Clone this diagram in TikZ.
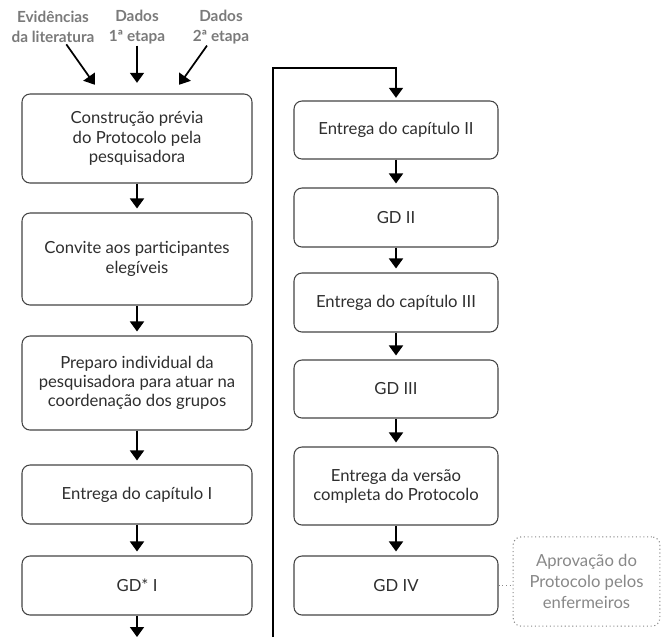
\documentclass[tikz,border=0pt]{standalone}
\usepackage{fontspec}
\setmainfont{Lato}
\usetikzlibrary{arrows.meta}

\definecolor{borda}{HTML}{444444}
\definecolor{texto}{HTML}{2E2E2E}
\definecolor{rotulo}{HTML}{7A7A7A}
\definecolor{pontilhado}{HTML}{888888}

\tikzset{
  etapa/.style={draw=borda, line width=0.8pt, rounded corners=6pt, align=center,
    text=texto, inner sep=2pt, font=\fontsize{12.5}{14.5}\selectfont},
  esq/.style={etapa, minimum width=172.5pt},
  dir/.style={etapa, minimum width=153pt},
  fonte/.style={align=center, text=rotulo, inner sep=1pt,
    font=\bfseries\fontsize{11.5}{15}\selectfont},
  seta/.style={-{Triangle[width=10.5pt,length=7.5pt]}, line width=1.3pt},
  aprovacao/.style={draw=pontilhado, dotted, line width=0.8pt, rounded corners=6pt,
    align=center, text=pontilhado, font=\fontsize{12.5}{15.75}\selectfont}
}

\begin{document}
\begin{tikzpicture}[x=0.75pt,y=-0.75pt]
        \useasboundingbox (0,0) rectangle (664,637);

        % fontes de dados
        \node[fonte](evid) at (53,27){Evidências\\da literatura};
        \node[fonte](dados1) at (137,27){Dados\\1ª etapa};
        \node[fonte](dados2) at (221,27){Dados\\2ª etapa};

        % coluna da esquerda
        \node[esq, minimum height=66.75pt](constr) at (137,138.5){Construção prévia\\do Protocolo pela\\pesquisadora};
        \node[esq, minimum height=69pt](convite) at (137,259){Convite aos participantes\\elegíveis};
        \node[esq, minimum height=70.5pt](preparo) at (137,383){Preparo individual da\\pesquisadora para atuar na\\coordenação dos grupos};
        \node[esq, minimum height=44.25pt](cap1) at (137,494.5){Entrega do capítulo I};
        \node[esq, minimum height=44.25pt](gd1) at (137,585.5){GD* I};

        % coluna da direita
        \node[dir, minimum height=43.5pt](cap2) at (396,130){Entrega do capítulo II};
        \node[dir, minimum height=44.25pt](gd2) at (396,217.5){GD II};
        \node[dir, minimum height=44.25pt](cap3) at (396,302.5){Entrega do capítulo III};
        \node[dir, minimum height=43.5pt](gd3) at (396,389){GD III};
        \node[dir, minimum height=58.5pt](versao) at (396,486){Entrega da versão\\completa do Protocolo};
        \node[dir, minimum height=44.25pt](gd4) at (396,585.5){GD IV};

        \node[aprovacao, minimum width=110pt, minimum height=67pt](aprov) at (586.5,581.5){Aprovação do\\Protocolo pelos\\enfermeiros};

        % setas
        \draw[seta, shorten >=8pt]([xshift=10pt]evid.south)--([xshift=-27pt]constr.north);
        \draw[seta, shorten >=8pt](dados1)--(constr);
        \draw[seta, shorten >=8pt]([xshift=-10.5pt]dados2.south)--([xshift=27pt]constr.north);

        \foreach \a/\b in {constr/convite, convite/preparo, preparo/cap1, cap1/gd1,
                           cap2/gd2, gd2/cap3, cap3/gd3, gd3/versao, versao/gd4}
            \draw[seta, shorten >=3pt](\a)--(\b);

        \coordinate(baixo) at (137,637);
        \draw[seta](gd1)--(baixo);

        \coordinate(volta) at (273,637);
        \coordinate(topo) at (273,68);
        \draw[seta, shorten >=2pt](volta)--(topo)-|(cap2);

        \draw[draw=pontilhado, dotted, line width=0.8pt](gd4.east)--(gd4.east -| aprov.west);
    \end{tikzpicture}
\end{document}
